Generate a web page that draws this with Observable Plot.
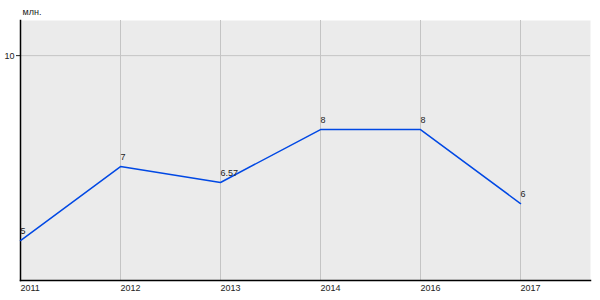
<!DOCTYPE html>
<html><head><meta charset="utf-8">
<script src="https://cdn.jsdelivr.net/npm/d3@7"></script>
<script src="https://cdn.jsdelivr.net/npm/@observablehq/plot@0.6"></script>
<style>body{margin:0;background:#fff;} svg{display:block;}</style>
</head><body><div id="chart"></div>
<script>
const years = ["2011","2012","2013","2014","2016","2017"];
const values = [5, 7, 6.57, 8, 8, 6];
const labels = ["5","7","6.57","8","8","6"];
const yTicks = [10];
const unit = "млн.";

const data = years.map((y,i)=>({year:y, value:values[i], label:labels[i]}));

const chart = Plot.plot({
  width: 600, height: 300,
  marginLeft: 20, marginRight: 10, marginTop: 20, marginBottom: 20,
  style: {fontFamily: "Liberation Sans, Arial, sans-serif", fontSize: "9px", color: "#222", background: "#fff"},
  x: {type: "point", domain: years, range: [20, 520], padding: 0, align: 0},
  y: {domain: [3.92, 10.95]},
  marks: [
    Plot.frame({fill: "#ebebeb", stroke: null}),
    Plot.gridX(years, {stroke: "#c4c4c4", strokeOpacity: 1, strokeWidth: 1}),
    Plot.gridY(yTicks, {stroke: "#c4c4c4", strokeOpacity: 1, strokeWidth: 1}),
    Plot.axisX({ticks: years, tickSize: 0, tickPadding: 4, textAnchor: "start", label: null, fill: "#222"}),
    Plot.axisY({ticks: yTicks, tickSize: 4, tickPadding: 2, tickFormat: d3.format("d"), label: null, fill: "#222"}),
    Plot.frame({anchor: "left", stroke: "#000", strokeWidth: 1.5}),
    Plot.frame({anchor: "bottom", stroke: "#000", strokeWidth: 1.5}),
    Plot.line(data, {x: "year", y: "value", stroke: "#0048e4", strokeWidth: 1.5}),
    Plot.text(data, {x: "year", y: "value", text: "label", textAnchor: "start", dy: -9, fill: "#222", fontSize: 9}),
    Plot.text([unit], {frameAnchor: "top-left", dy: -12, dx: 2, textAnchor: "start", fill: "#222", fontSize: 9})
  ]
});
document.getElementById("chart").append(chart);
</script></body></html>
